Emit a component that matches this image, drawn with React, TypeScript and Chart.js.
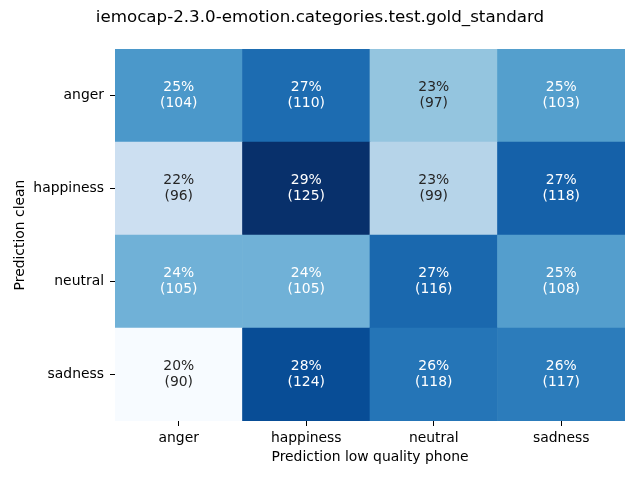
import React, { useEffect, useRef } from "react";
import { Chart, registerables } from "chart.js";

Chart.register(...registerables);

const titleText = "iemocap-2.3.0-emotion.categories.test.gold_standard";
const xAxisTitle = "Prediction low quality phone";
const yAxisTitle = "Prediction clean";
const colLabels = ["anger", "happiness", "neutral", "sadness"];
const rowLabels = ["anger", "happiness", "neutral", "sadness"];
const angerRow = [104, 110, 97, 103];
const happinessRow = [96, 125, 99, 118];
const neutralRow = [105, 105, 116, 108];
const sadnessRow = [90, 124, 118, 117];
const counts = [angerRow, happinessRow, neutralRow, sadnessRow];

const bluesStops = ["#f7fbff", "#deebf7", "#c6dbef", "#9ecae1", "#6baed6", "#4292c6", "#2171b5", "#08519c", "#08306b"];

function hexToRgb(h: string) {
  return [parseInt(h.slice(1, 3), 16), parseInt(h.slice(3, 5), 16), parseInt(h.slice(5, 7), 16)];
}

function blues(t: number): number[] {
  const v = Math.max(0, Math.min(1, t)) * (bluesStops.length - 1);
  const i = Math.min(Math.floor(v), bluesStops.length - 2);
  const f = v - i;
  const a = hexToRgb(bluesStops[i]);
  const b = hexToRgb(bluesStops[i + 1]);
  return [0, 1, 2].map((k) => Math.round(a[k] + (b[k] - a[k]) * f));
}

function luminance(rgb: number[]) {
  const lin = rgb.map((c) => {
    const s = c / 255;
    return s <= 0.03928 ? s / 12.92 : Math.pow((s + 0.055) / 1.055, 2.4);
  });
  return 0.2126 * lin[0] + 0.7152 * lin[1] + 0.0722 * lin[2];
}

const rowShares = counts.map((row) => {
  const sum = row.reduce((a, b) => a + b, 0);
  return row.map((v) => v / sum);
});
const allShares = rowShares.flat();
const sMin = Math.min(...allShares);
const sMax = Math.max(...allShares);
const cellColor = (share: number) => blues((share - sMin) / (sMax - sMin));

const FONT = "'DejaVu Sans', sans-serif";

export default function App() {
  const ref = useRef<HTMLCanvasElement | null>(null);
  useEffect(() => {
    if (!ref.current) return;
    const datasets = [...counts].reverse().map((row, ri) => {
      const rowIdx = counts.length - 1 - ri;
      return {
        label: rowLabels[rowIdx],
        data: row.map(() => 1),
        backgroundColor: rowShares[rowIdx].map((s) => {
          const c = cellColor(s);
          return `rgb(${c[0]},${c[1]},${c[2]})`;
        }),
        borderWidth: 0,
        barPercentage: 1,
        categoryPercentage: 1,
      };
    });

    const annotPlugin = {
      id: "annot",
      afterDatasetsDraw(chart: any) {
        const ctx = chart.ctx;
        ctx.save();
        ctx.font = `13.9px ${FONT}`;
        ctx.textAlign = "center";
        ctx.textBaseline = "middle";
        chart.data.datasets.forEach((ds: any, di: number) => {
          const rowIdx = counts.length - 1 - di;
          const row = counts[rowIdx];
          const shares = rowShares[rowIdx];
          const meta = chart.getDatasetMeta(di);
          meta.data.forEach((el: any, ci: number) => {
            const c = cellColor(shares[ci]);
            ctx.fillStyle = luminance(c) > 0.408 ? "rgb(38,38,38)" : "#ffffff";
            const cy = (el.y + el.base) / 2;
            ctx.fillText(`${Math.round(shares[ci] * 100)}%`, el.x, cy - 8);
            ctx.fillText(`(${row[ci]})`, el.x, cy + 8);
          });
        });
        ctx.restore();
      },
    };

    const chart = new Chart(ref.current, {
      type: "bar",
      data: { labels: colLabels, datasets },
      options: {
        animation: false,
        responsive: false,
        maintainAspectRatio: false,
        layout: { padding: { top: 0, right: 15, bottom: 0, left: 15 } },
        plugins: {
          legend: { display: false },
          tooltip: { enabled: false },
          title: {
            display: true,
            text: titleText,
            color: "#000",
            font: { family: FONT, size: 16.7, weight: "normal" },
            padding: { top: 8, bottom: 21 },
          },
        },
        scales: {
          x: {
            stacked: true,
            offset: true,
            grid: { drawOnChartArea: false, drawTicks: true, tickLength: 5, tickColor: "#000", offset: false, lineWidth: 1 },
            border: { display: false },
            ticks: { color: "#000", font: { family: FONT, size: 13.9 }, padding: 4, maxRotation: 0 },
            title: {
              display: true,
              text: xAxisTitle,
              color: "#000",
              font: { family: FONT, size: 13.9 },
              padding: { top: 0, bottom: 14 },
            },
            afterFit(scale: any) {
              scale.height = 59;
            },
          },
          y: {
            stacked: true,
            type: "linear",
            min: 0,
            max: 4,
            grid: { drawOnChartArea: false, drawTicks: true, tickLength: 5, tickColor: "#000", lineWidth: 1 },
            border: { display: false },
            afterBuildTicks(scale: any) {
              scale.ticks = rowLabels.map((_, i) => ({ value: i + 0.5 }));
            },
            ticks: {
              color: "#000",
              font: { family: FONT, size: 13.9 },
              padding: 6,
              callback(value: any) {
                const idx = rowLabels.length - 1 - Math.floor(Number(value));
                return rowLabels[idx] ?? "";
              },
            },
            title: {
              display: true,
              text: yAxisTitle,
              color: "#000",
              font: { family: FONT, size: 13.9, lineHeight: 0.8 },
              padding: { top: 0, bottom: 0 },
            },
            afterFit(scale: any) {
              scale.width = 100;
            },
          },
        },
      } as any,
      plugins: [annotPlugin],
    });
    return () => chart.destroy();
  }, []);

  return (
    <div style={{ position: "absolute", left: 0, top: 0, width: 640, height: 480, background: "#fff" }}>
      <canvas ref={ref} width={640} height={480} style={{ width: 640, height: 480 }} />
    </div>
  );
}
